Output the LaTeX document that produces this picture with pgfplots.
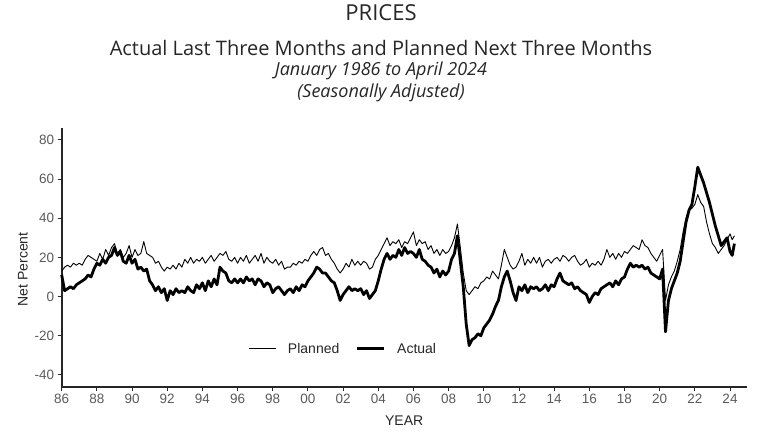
\documentclass[border=0pt]{standalone}
\usepackage{pgfplots}
\pgfplotsset{compat=1.18}
\usepackage{fontspec}
\setmainfont{Liberation Sans}
\newfontfamily\titlefont{Open Sans}
\definecolor{tickgray}{HTML}{5A5A5A}
\definecolor{axisgray}{HTML}{262626}

\begin{document}
\begin{tikzpicture}
\path[use as bounding box] (0pt,0pt) rectangle (767pt,432pt);
% titles
\node[font=\titlefont\fontsize{22}{24}\selectfont, text=axisgray] at (381pt,419pt) {PRICES};
\node[font=\titlefont\fontsize{20}{22}\selectfont, text=axisgray] at (381pt,384pt) {Actual Last Three Months and Planned Next Three Months};
\node[font=\titlefont\itshape\fontsize{18}{20}\selectfont, text=axisgray] at (381pt,361pt) {January 1986 to April 2024};
\node[font=\titlefont\itshape\fontsize{18}{20}\selectfont, text=axisgray] at (381pt,339pt) {(Seasonally Adjusted)};

\begin{axis}[
  at={(61.7pt,45.3pt)}, anchor=south west,
  scale only axis, width=685pt, height=258.7pt,
  xmin=1986, xmax=2024.95, ymin=-46, ymax=86,
  axis x line=bottom, axis y line=left,
  axis line style={-, line width=1.8pt, axisgray},
  xtick={1986,1988,...,2024},
  xticklabels={86,88,90,92,94,96,98,00,02,04,06,08,10,12,14,16,18,20,22,24},
  ytick={-40,-20,0,20,40,60,80},
  tick style={axisgray, line width=0.9pt},
  major tick length=4pt,
  tick align=outside,
  /pgf/number format/assume math mode=true,
  tick label style={font=\fontsize{13.5}{14}\selectfont, text=tickgray},
  xlabel={YEAR}, ylabel={Net Percent},
  label style={font=\fontsize{14}{15}\selectfont, text=axisgray},
  xlabel style={at={(ticklabel cs:0.5)}, anchor=north, yshift=-5pt},
  ylabel style={at={(ticklabel cs:0.5)}, anchor=south, xshift=-12pt},
  legend style={at={(axis cs:2002,-26.7)}, anchor=center, draw=none, fill=none,
    font=\fontsize{14}{15}\selectfont, text=axisgray,
    /tikz/every odd column/.append style={column sep=10pt},
    /tikz/every even column/.append style={column sep=14pt}},
  legend columns=2,
  legend image code/.code={\draw[#1] (0pt,0pt) -- (27pt,0pt);},
  clip=false,
]
% Planned (thin)
\addplot[black, line width=0.9pt, line join=round] coordinates {
(1986.000,13) (1986.167,15) (1986.333,16) (1986.500,15) (1986.667,17) (1986.833,16)
(1987.000,17) (1987.167,16) (1987.333,19) (1987.500,21) (1987.667,20) (1987.833,19)
(1988.000,18) (1988.167,22) (1988.333,19) (1988.500,24) (1988.667,21) (1988.833,25)
(1989.000,27) (1989.167,22) (1989.333,24) (1989.500,20) (1989.667,22) (1989.833,26)
(1990.000,20) (1990.167,24) (1990.333,21) (1990.500,22) (1990.667,28) (1990.833,22)
(1991.000,21) (1991.167,20) (1991.333,17) (1991.500,18) (1991.667,15) (1991.833,13)
(1992.000,15) (1992.167,14) (1992.333,16) (1992.500,14) (1992.667,17) (1992.833,15)
(1993.000,19) (1993.167,17) (1993.333,20) (1993.500,17) (1993.667,19) (1993.833,18)
(1994.000,20) (1994.167,17) (1994.333,19) (1994.500,21) (1994.667,18) (1994.833,20)
(1995.000,22) (1995.167,21) (1995.333,23) (1995.500,19) (1995.667,18) (1995.833,20)
(1996.000,17) (1996.167,20) (1996.333,18) (1996.500,21) (1996.667,17) (1996.833,19)
(1997.000,21) (1997.167,18) (1997.333,22) (1997.500,17) (1997.667,20) (1997.833,18)
(1998.000,17) (1998.167,19) (1998.333,16) (1998.500,18) (1998.667,14) (1998.833,15)
(1999.000,15) (1999.167,17) (1999.333,16) (1999.500,18) (1999.667,17) (1999.833,19)
(2000.000,18) (2000.167,21) (2000.333,23) (2000.500,21) (2000.667,24) (2000.833,25)
(2001.000,21) (2001.167,22) (2001.333,19) (2001.500,17) (2001.667,14) (2001.833,12)
(2002.000,14) (2002.167,17) (2002.333,15) (2002.500,19) (2002.667,16) (2002.833,18)
(2003.000,16) (2003.167,18) (2003.333,17) (2003.500,14) (2003.667,15) (2003.833,19)
(2004.000,21) (2004.167,24) (2004.333,27) (2004.500,30) (2004.667,26) (2004.833,28)
(2005.000,27) (2005.167,29) (2005.333,25) (2005.500,28) (2005.667,27) (2005.833,30)
(2006.000,33) (2006.167,26) (2006.333,29) (2006.500,27) (2006.667,28) (2006.833,24)
(2007.000,26) (2007.167,22) (2007.333,24) (2007.500,21) (2007.667,24) (2007.833,22)
(2008.000,23) (2008.167,26) (2008.333,30) (2008.500,37) (2008.667,25) (2008.833,12)
(2009.000,3) (2009.167,1) (2009.333,3) (2009.500,5) (2009.667,4) (2009.833,7)
(2010.000,8) (2010.167,10) (2010.333,9) (2010.500,13) (2010.667,11) (2010.833,9)
(2011.000,16) (2011.167,24) (2011.333,20) (2011.500,16) (2011.667,14) (2011.833,15)
(2012.000,18) (2012.167,22) (2012.333,16) (2012.500,19) (2012.667,17) (2012.833,20)
(2013.000,17) (2013.167,20) (2013.333,15) (2013.500,18) (2013.667,19) (2013.833,17)
(2014.000,19) (2014.167,20) (2014.333,18) (2014.500,21) (2014.667,20) (2014.833,18)
(2015.000,20) (2015.167,21) (2015.333,18) (2015.500,16) (2015.667,17) (2015.833,19)
(2016.000,15) (2016.167,17) (2016.333,16) (2016.500,18) (2016.667,16) (2016.833,19)
(2017.000,24) (2017.167,20) (2017.333,22) (2017.500,19) (2017.667,22) (2017.833,20)
(2018.000,23) (2018.167,22) (2018.333,24) (2018.500,26) (2018.667,25) (2018.833,24)
(2019.000,29) (2019.167,26) (2019.333,25) (2019.500,22) (2019.667,20) (2019.833,18)
(2020.000,21) (2020.167,24) (2020.333,-2) (2020.500,6) (2020.667,10) (2020.833,13)
(2021.000,18) (2021.167,24) (2021.333,33) (2021.500,40) (2021.667,44) (2021.833,45)
(2022.000,47) (2022.167,52) (2022.333,48) (2022.500,46) (2022.667,38) (2022.833,32)
(2023.000,27) (2023.167,25) (2023.333,22) (2023.500,24) (2023.667,26) (2023.833,29)
(2024.000,32) (2024.125,29) (2024.250,31)
};
% Actual (thick)
\addplot[black, line width=2.8pt, line join=round] coordinates {
(1986.000,11) (1986.167,3) (1986.333,4) (1986.500,5) (1986.667,4) (1986.833,6)
(1987.000,7) (1987.167,8) (1987.333,9) (1987.500,11) (1987.667,10) (1987.833,14)
(1988.000,17) (1988.167,16) (1988.333,19) (1988.500,17) (1988.667,20) (1988.833,21)
(1989.000,25) (1989.167,21) (1989.333,23) (1989.500,18) (1989.667,17) (1989.833,21)
(1990.000,17) (1990.167,19) (1990.333,14) (1990.500,15) (1990.667,13) (1990.833,14)
(1991.000,8) (1991.167,6) (1991.333,3) (1991.500,5) (1991.667,2) (1991.833,4)
(1992.000,-2) (1992.167,3) (1992.333,1) (1992.500,4) (1992.667,2) (1992.833,3)
(1993.000,2) (1993.167,5) (1993.333,3) (1993.500,2) (1993.667,6) (1993.833,4)
(1994.000,7) (1994.167,3) (1994.333,8) (1994.500,5) (1994.667,9) (1994.833,6)
(1995.000,15) (1995.167,13) (1995.333,12) (1995.500,8) (1995.667,7) (1995.833,9)
(1996.000,7) (1996.167,9) (1996.333,7) (1996.500,10) (1996.667,8) (1996.833,9)
(1997.000,6) (1997.167,9) (1997.333,8) (1997.500,5) (1997.667,7) (1997.833,6)
(1998.000,2) (1998.167,4) (1998.333,5) (1998.500,3) (1998.667,1) (1998.833,3)
(1999.000,4) (1999.167,2) (1999.333,5) (1999.500,3) (1999.667,6) (1999.833,5)
(2000.000,8) (2000.167,10) (2000.333,12) (2000.500,15) (2000.667,14) (2000.833,12)
(2001.000,12) (2001.167,10) (2001.333,8) (2001.500,7) (2001.667,3) (2001.833,-2)
(2002.000,1) (2002.167,3) (2002.333,5) (2002.500,3) (2002.667,4) (2002.833,3)
(2003.000,4) (2003.167,1) (2003.333,3) (2003.500,-1) (2003.667,1) (2003.833,3)
(2004.000,8) (2004.167,14) (2004.333,19) (2004.500,22) (2004.667,19) (2004.833,21)
(2005.000,20) (2005.167,24) (2005.333,21) (2005.500,25) (2005.667,22) (2005.833,23)
(2006.000,22) (2006.167,20) (2006.333,24) (2006.500,19) (2006.667,18) (2006.833,16)
(2007.000,15) (2007.167,12) (2007.333,14) (2007.500,10) (2007.667,13) (2007.833,11)
(2008.000,13) (2008.167,19) (2008.333,22) (2008.500,31) (2008.667,18) (2008.833,5)
(2009.000,-14) (2009.167,-25) (2009.333,-22) (2009.500,-21) (2009.667,-19) (2009.833,-20)
(2010.000,-16) (2010.167,-14) (2010.333,-12) (2010.500,-9) (2010.667,-5) (2010.833,-2)
(2011.000,5) (2011.167,10) (2011.333,13) (2011.500,8) (2011.667,2) (2011.833,-2)
(2012.000,5) (2012.167,3) (2012.333,6) (2012.500,2) (2012.667,5) (2012.833,4)
(2013.000,5) (2013.167,3) (2013.333,4) (2013.500,6) (2013.667,3) (2013.833,6)
(2014.000,5) (2014.167,9) (2014.333,12) (2014.500,8) (2014.667,7) (2014.833,6)
(2015.000,7) (2015.167,4) (2015.333,5) (2015.500,3) (2015.667,2) (2015.833,1)
(2016.000,-3) (2016.167,0) (2016.333,2) (2016.500,1) (2016.667,4) (2016.833,5)
(2017.000,6) (2017.167,7) (2017.333,5) (2017.500,8) (2017.667,6) (2017.833,9)
(2018.000,10) (2018.167,14) (2018.333,17) (2018.500,15) (2018.667,16) (2018.833,15)
(2019.000,16) (2019.167,14) (2019.333,15) (2019.500,12) (2019.667,11) (2019.833,10)
(2020.000,9) (2020.167,14) (2020.333,-18) (2020.500,-2) (2020.667,4) (2020.833,8)
(2021.000,12) (2021.167,18) (2021.333,28) (2021.500,38) (2021.667,44) (2021.833,47)
(2022.000,56) (2022.167,66) (2022.333,62) (2022.500,58) (2022.667,53) (2022.833,48)
(2023.000,42) (2023.167,36) (2023.333,31) (2023.500,26) (2023.667,28) (2023.833,30)
(2024.000,23) (2024.125,21) (2024.250,27)
};
\legend{Planned, Actual}
\end{axis}
\end{tikzpicture}
\end{document}
